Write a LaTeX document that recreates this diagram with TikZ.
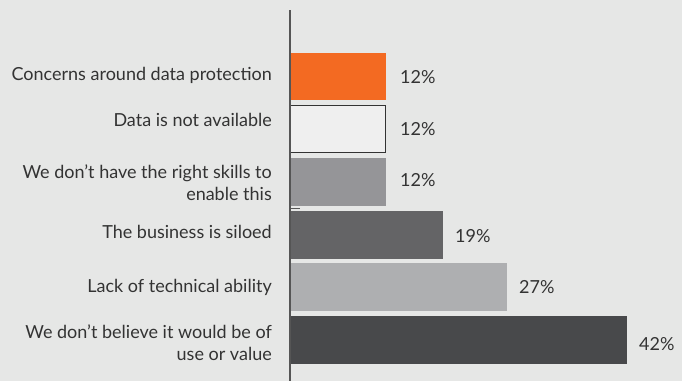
\documentclass[tikz,border=0pt]{standalone}
\usepackage{fontspec}
\setmainfont{Lato}
\usetikzlibrary{positioning}
\definecolor{bgcol}{HTML}{E6E7E6}
\definecolor{txtcol}{HTML}{333333}
\definecolor{orangebar}{HTML}{F36A22}
\definecolor{whitebar}{HTML}{EFEFEF}
\definecolor{graybar}{HTML}{959598}
\definecolor{darkbar}{HTML}{646466}
\definecolor{lightbar}{HTML}{AEAFB1}
\definecolor{darkestbar}{HTML}{48494B}
\definecolor{axiscol}{HTML}{555555}

\begin{document}
\begin{tikzpicture}[x=1pt,y=-1pt,
	lbl/.style={anchor=east,align=right,inner sep=0pt,text=txtcol,font=\fontsize{18}{22}\selectfont},
	pct/.style={anchor=west,inner sep=0pt,text=txtcol,font=\fontsize{18}{22}\selectfont}]
	\fill[bgcol] (0,0) rectangle (682,381);
	\useasboundingbox (0,0) rectangle (682,381);
	% bars
	\fill[orangebar] (289,53) rectangle (386,100);
	\filldraw[fill=whitebar,draw=txtcol,line width=1.2] (290,105.6) rectangle (385.4,152.4);
	\fill[graybar] (289,158) rectangle (386,205.5);
	\fill[darkbar] (289,211) rectangle (443,259);
	\fill[lightbar] (289,263) rectangle (507,311);
	\fill[darkestbar] (289,316) rectangle (627,363.5);
	\draw[axiscol,line width=1.5] (290,10) -- (290,381);
	\draw[axiscol,line width=.8] (290,208) -- (300,208);
	% category labels
	\node[lbl] (c1) at (272,75.5) {Concerns around data protection};
	\node[lbl] (c2) at (272,119.5) {Data is not available};
	\node[lbl] (c3) at (272,182.5) {We don’t have the right skills to\\enable this};
	\node[lbl] (c4) at (272,231.5) {The business is siloed};
	\node[lbl] (c5) at (272,287.5) {Lack of technical ability};
	\node[lbl] (c6) at (272,342.5) {We don’t believe it would be of\\use or value};
	% values
	\node[pct] (v1) at (400,77.5) {12\%};
	\node[pct] (v2) at (400,129) {12\%};
	\node[pct] (v3) at (400,180.5) {12\%};
	\node[pct] (v4) at (455,236) {19\%};
	\node[pct] (v5) at (519,287.5) {27\%};
	\node[pct] (v6) at (639,344) {42\%};
\end{tikzpicture}
\end{document}
